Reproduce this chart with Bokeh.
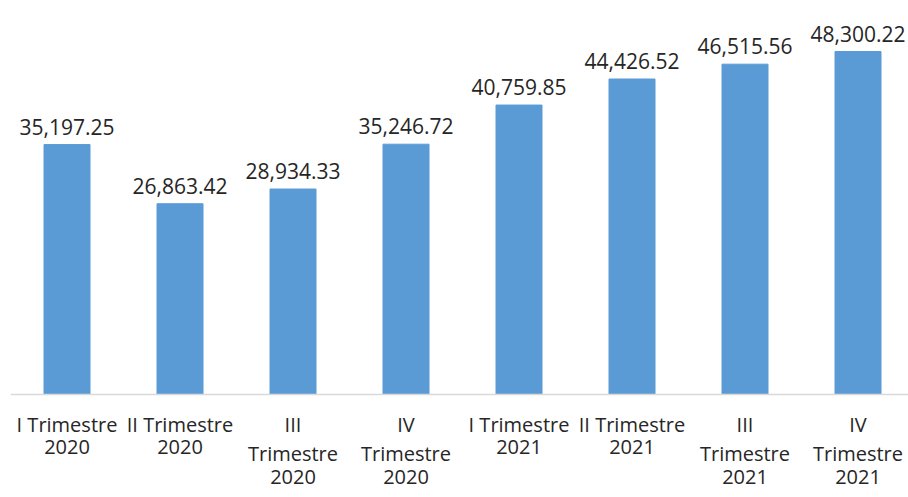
from bokeh.plotting import figure
from bokeh.models import Range1d, ColumnDataSource, LabelSet, Span
from bokeh.core.properties import value
from bokeh.embed import file_html
from bokeh.resources import INLINE

categories = ["I Trimestre\n2020", "II Trimestre\n2020", "III\nTrimestre\n2020", "IV\nTrimestre\n2020",
              "I Trimestre\n2021", "II Trimestre\n2021", "III\nTrimestre\n2021", "IV\nTrimestre\n2021"]
values = [35197.25, 26863.42, 28934.33, 35246.72, 40759.85, 44426.52, 46515.56, 48300.22]
value_labels = ["35,197.25", "26,863.42", "28,934.33", "35,246.72", "40,759.85", "44,426.52", "46,515.56", "48,300.22"]

xs = [i + 0.5 for i in range(len(categories))]
src = ColumnDataSource(dict(x=xs, top=values, lab=value_labels))

# one row per line of each category label, so every line is centred on its bar
lx, ly, lt, loff = [], [], [], []
for x, c in zip(xs, categories):
    for j, line in enumerate(c.split("\n")):
        lx.append(x)
        ly.append(0)
        lt.append(line)
        loff.append(-16 - 29.8 * j)
cat_src = ColumnDataSource(dict(x=lx, y=ly, text=lt, off=loff))

FONT = "Open Sans"
TXT = "#262626"

p = figure(width=908, height=497, output_backend="svg", toolbar_location=None,
           x_range=Range1d(0, 898 / 113), y_range=Range1d(-14504, 55482),
           min_border_left=10, min_border_right=0, min_border_top=0, min_border_bottom=0)
p.outline_line_color = None
p.grid.visible = False
p.xaxis.visible = False
p.yaxis.visible = False
p.background_fill_color = None

p.vbar(x="x", top="top", width=46 / 113, bottom=0, source=src, color="#5B9BD5")

p.add_layout(Span(location=0, dimension="width", line_color="#D9D9D9", line_width=1.5))

labels = LabelSet(x="x", y="top", text="lab", source=src, text_align="center",
                  text_baseline="bottom", y_offset=10, text_font=value(FONT),
                  text_font_size="21px", text_color=TXT)
p.add_layout(labels)

cat_labels = LabelSet(x="x", y="y", text="text", source=cat_src, text_align="center",
                      text_baseline="top", y_offset="off", text_font=value(FONT),
                      text_font_size="20px", text_color=TXT)
p.add_layout(cat_labels)

open("out.html", "w").write(file_html(p, INLINE))
